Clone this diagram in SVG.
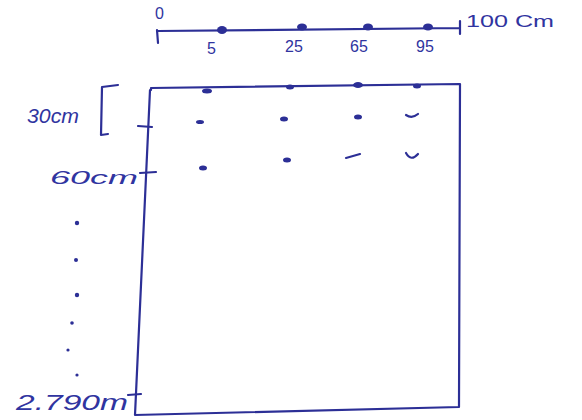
<svg xmlns="http://www.w3.org/2000/svg" width="582" height="420" viewBox="0 0 582 420">
<style>
.ink{fill:none;stroke:#2c2f96;stroke-width:2.2;stroke-linecap:round;stroke-linejoin:round}
.dot{fill:#2c2f96}
.t{font-family:"Liberation Sans",Arial,sans-serif;fill:#3034a0}
</style>
<rect width="582" height="420" fill="#ffffff"/>
<g id="scale">
<path class="ink" d="M157,30 L158,43 M158,31 L460,28 M460,21 L460,34"/>
<ellipse class="dot" cx="222" cy="30" rx="5" ry="4"/>
<ellipse class="dot" cx="302" cy="27" rx="5" ry="3.5"/>
<ellipse class="dot" cx="368" cy="27" rx="5" ry="3.5"/>
<ellipse class="dot" cx="428" cy="27" rx="5" ry="3.5"/>
<text class="t" x="155" y="19" font-size="16">0</text>
<text class="t" x="207" y="54" font-size="16">5</text>
<text class="t" x="285" y="52" font-size="16">25</text>
<text class="t" x="350" y="52" font-size="16">65</text>
<text class="t" x="416" y="52" font-size="16">95</text>
<text class="t" x="466" y="27" font-size="16" textLength="88" lengthAdjust="spacingAndGlyphs">100 Cm</text>
</g>
<g id="panel">
<path class="ink" d="M151,90 L151,88 L460,84 L459,407 L135,415 L150,90"/>
</g>
<g id="dots">
<ellipse class="dot" cx="207" cy="91" rx="5" ry="2.5"/>
<ellipse class="dot" cx="290" cy="87" rx="4" ry="2.5"/>
<ellipse class="dot" cx="358" cy="85" rx="5" ry="3"/>
<ellipse class="dot" cx="417" cy="86" rx="4" ry="2.5"/>
<ellipse class="dot" cx="200" cy="122" rx="4" ry="2"/>
<ellipse class="dot" cx="284" cy="119" rx="4" ry="2.5"/>
<ellipse class="dot" cx="358" cy="117" rx="4" ry="2.5"/>
<path class="ink" d="M406,115 Q412,119 418,114"/>
<ellipse class="dot" cx="203" cy="168" rx="4" ry="2.5"/>
<ellipse class="dot" cx="287" cy="160" rx="4" ry="2.5"/>
<path class="ink" d="M346,158 L360,154"/>
<path class="ink" d="M406,153 Q411,162 418,154"/>
</g>
<g id="left-scale">
<path class="ink" d="M118,85 L102,87 L101,135 L108,134"/>
<path class="ink" d="M138,126 L152,127 M140,173 L156,172 M128,395 L141,394"/>
<text class="t" x="27" y="123" font-size="21" font-style="italic" textLength="52" lengthAdjust="spacingAndGlyphs">30cm</text>
<text class="t" x="50" y="184" font-size="19" font-style="italic" textLength="88" lengthAdjust="spacingAndGlyphs">60cm</text>
<text class="t" x="16" y="410" font-size="22" font-style="italic" textLength="112" lengthAdjust="spacingAndGlyphs">2.790m</text>
<circle class="dot" cx="77" cy="223" r="2.2"/>
<circle class="dot" cx="76" cy="260" r="2"/>
<circle class="dot" cx="77" cy="295" r="2.2"/>
<circle class="dot" cx="72" cy="323" r="1.8"/>
<circle class="dot" cx="68" cy="350" r="1.6"/>
<circle class="dot" cx="77" cy="375" r="1.6"/>
</g>
</svg>
